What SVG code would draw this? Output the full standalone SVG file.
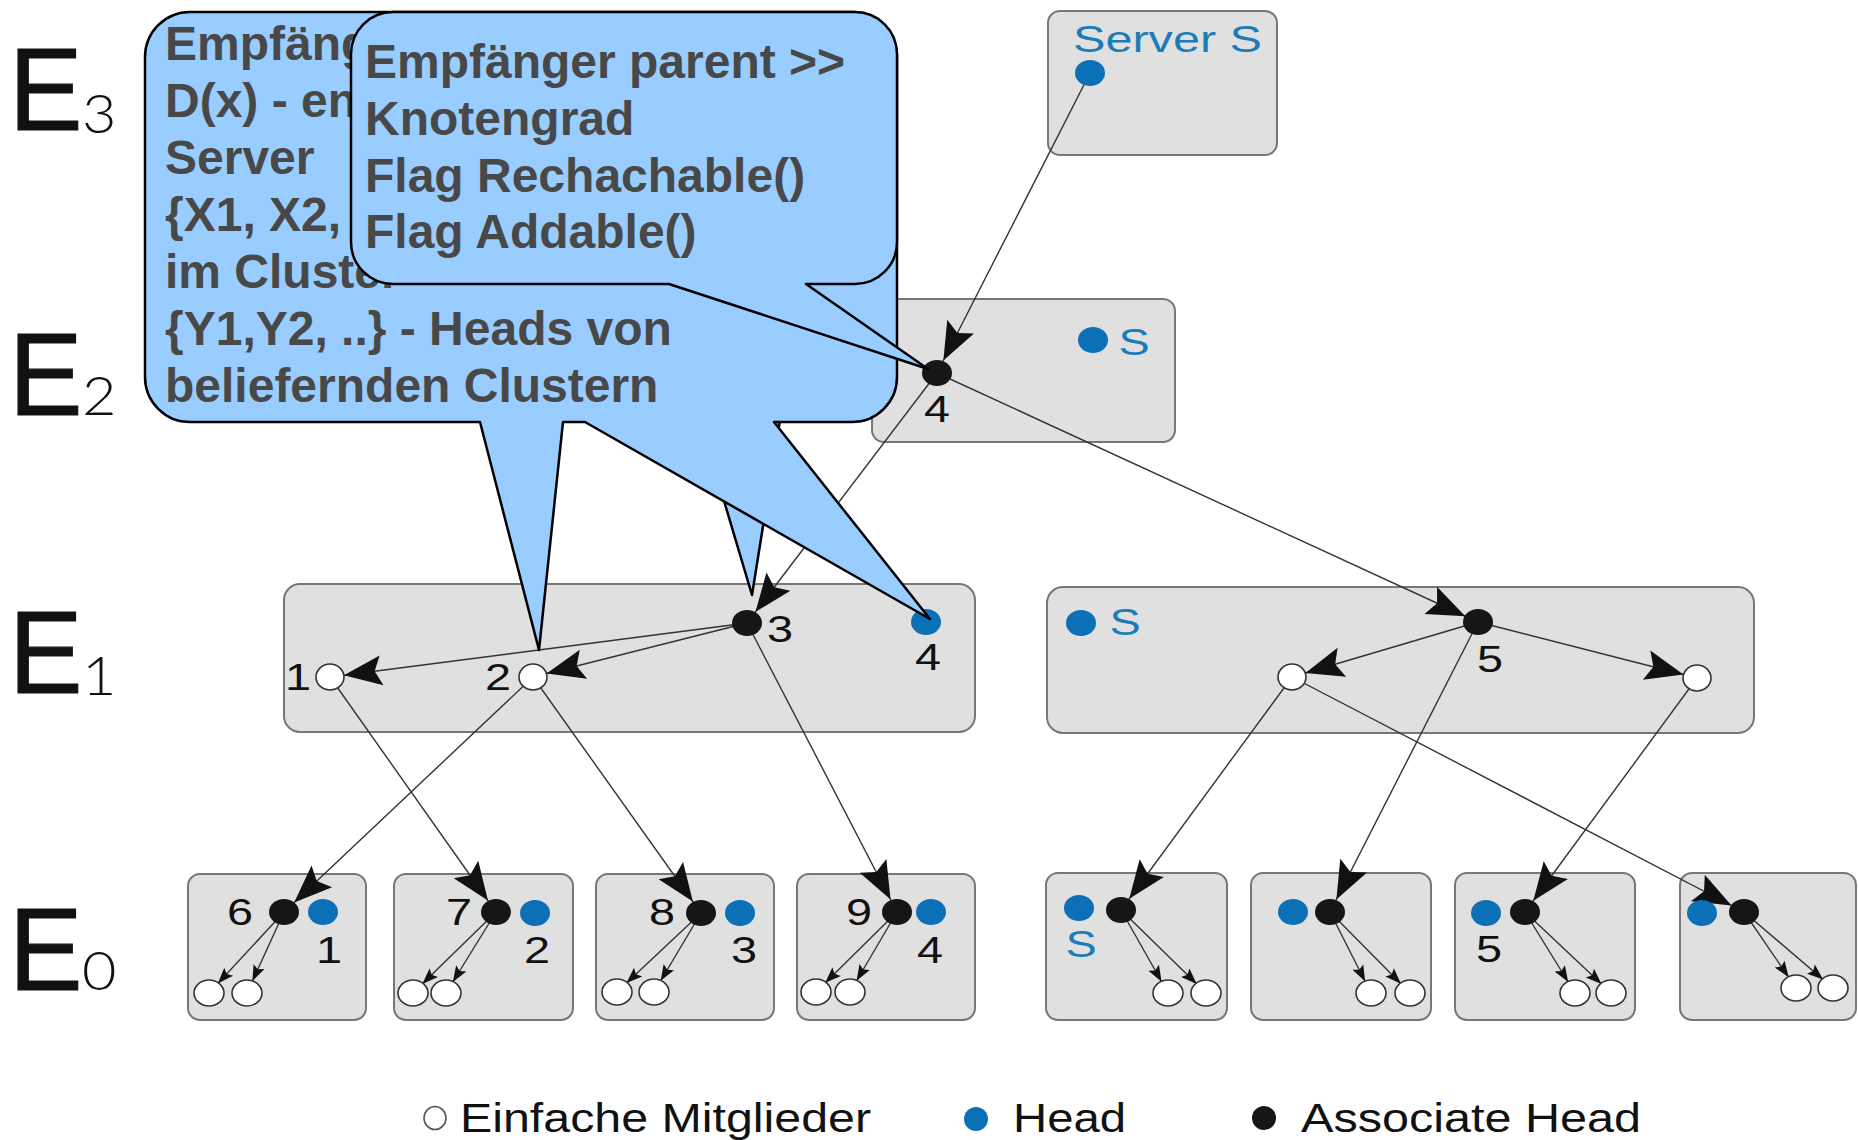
<svg xmlns="http://www.w3.org/2000/svg" width="1858" height="1140" viewBox="0 0 1858 1140">
  <style>
    .box { fill: #e0e0e0; stroke: #777; stroke-width: 2; }
    .blk { fill: #161616; }
    .blu { fill: #0b70b6; }
    .wht { fill: #fff; stroke: #333; stroke-width: 1.6; }
    .edge { fill: none; stroke: #333; stroke-width: 1.4; }
    .big { marker-end: url(#ahBig); }
    .small { marker-end: url(#ahSmall); }
    .lbl { font-family: "Liberation Sans", Arial, sans-serif; font-size: 36px; fill: #111; text-anchor: middle; }
    .lbl.s { fill: #1c7cb8; }
    .lvl { font-family: "Liberation Sans", Arial, sans-serif; fill: #111; }
    .lvl .e { font-size: 116px; stroke: #111; stroke-width: 1.2; }
    .lvl .n { font-family: Lato, "Liberation Sans", Arial, sans-serif; font-weight: 300; font-size: 54px; }
    .call { fill: #99ccff; stroke: #000; stroke-width: 2.5; stroke-linejoin: round; }
    .ctext { font-family: "Liberation Sans", Arial, sans-serif; font-weight: bold; font-size: 48px; fill: #484848; }
    .leg { font-family: "Liberation Sans", Arial, sans-serif; font-size: 40px; fill: #111; }
  </style>
  <defs>
    <marker id="ahBig" markerUnits="userSpaceOnUse" orient="auto" overflow="visible" markerWidth="1" markerHeight="1" refX="0" refY="0">
      <path d="M-14,0 L-52,-15 L-45,0 L-52,15 Z" fill="#111"/>
    </marker>
    <marker id="ahSmall" markerUnits="userSpaceOnUse" orient="auto" overflow="visible" markerWidth="1" markerHeight="1" refX="0" refY="0">
      <path d="M-13,0 L-29,-6 L-26,0 L-29,6 Z" fill="#111"/>
    </marker>
  </defs>

  <rect width="1858" height="1140" fill="#fff"/>

  <!-- level labels -->
  <g id="levels" class="lvl">
    <text class="e" transform="translate(9,130) scale(0.95,1)">E</text>
    <text class="n" transform="translate(82,133) scale(1.1,1)">3</text>
    <text class="e" transform="translate(9,415) scale(0.95,1)">E</text>
    <text class="n" transform="translate(82,415) scale(1.1,1)">2</text>
    <text class="e" transform="translate(9,693) scale(0.95,1)">E</text>
    <text class="n" transform="translate(82,695) scale(1.1,1)">1</text>
    <text class="e" transform="translate(9,990) scale(0.95,1)">E</text>
    <text class="n" transform="translate(82,990) scale(1.1,1)">0</text>
  </g>

  <!-- cluster boxes -->
  <g id="cluster-e3"><rect class="box" x="1048" y="11" width="229" height="144" rx="12"/></g>
  <g id="cluster-e2"><rect class="box" x="872" y="299" width="303" height="143" rx="12"/></g>
  <g id="cluster-e1-a"><rect class="box" x="284" y="584" width="691" height="148" rx="16"/></g>
  <g id="cluster-e1-b"><rect class="box" x="1047" y="587" width="707" height="146" rx="16"/></g>
  <g id="cluster-e0-1"><rect class="box" x="188" y="874" width="178" height="146" rx="12"/></g>
  <g id="cluster-e0-2"><rect class="box" x="394" y="874" width="179" height="146" rx="12"/></g>
  <g id="cluster-e0-3"><rect class="box" x="596" y="874" width="178" height="146" rx="12"/></g>
  <g id="cluster-e0-4"><rect class="box" x="797" y="874" width="178" height="146" rx="12"/></g>
  <g id="cluster-e0-5"><rect class="box" x="1046" y="873" width="181" height="147" rx="12"/></g>
  <g id="cluster-e0-6"><rect class="box" x="1251" y="873" width="180" height="147" rx="12"/></g>
  <g id="cluster-e0-7"><rect class="box" x="1455" y="873" width="180" height="147" rx="12"/></g>
  <g id="cluster-e0-8"><rect class="box" x="1680" y="873" width="176" height="147" rx="12"/></g>

  <!-- connectors -->
  <g id="connectors">
    <line class="edge big" x1="1090" y1="73" x2="937" y2="373"/>
    <line class="edge big" x1="937" y1="373" x2="747" y2="623"/>
    <line class="edge big" x1="937" y1="373" x2="1478" y2="622"/>
    <line class="edge big" x1="747" y1="623" x2="330" y2="677"/>
    <line class="edge big" x1="747" y1="623" x2="533" y2="677"/>
    <line class="edge big" x1="1478" y1="622" x2="1292" y2="677"/>
    <line class="edge big" x1="1478" y1="622" x2="1697" y2="678"/>
    <line class="edge big" x1="330" y1="677" x2="496" y2="912"/>
    <line class="edge big" x1="533" y1="677" x2="284" y2="912"/>
    <line class="edge big" x1="533" y1="677" x2="701" y2="913"/>
    <line class="edge big" x1="747" y1="623" x2="897" y2="912"/>
    <line class="edge big" x1="1292" y1="677" x2="1121" y2="910"/>
    <line class="edge big" x1="1292" y1="677" x2="1744" y2="912"/>
    <line class="edge big" x1="1478" y1="622" x2="1330" y2="912"/>
    <line class="edge big" x1="1697" y1="678" x2="1525" y2="912"/>
    <!-- member links inside the bottom clusters -->
    <line class="edge small" x1="284" y1="912" x2="209" y2="993"/>
    <line class="edge small" x1="284" y1="912" x2="247" y2="993"/>
    <line class="edge small" x1="496" y1="912" x2="413" y2="993"/>
    <line class="edge small" x1="496" y1="912" x2="446" y2="993"/>
    <line class="edge small" x1="701" y1="913" x2="617" y2="992"/>
    <line class="edge small" x1="701" y1="913" x2="654" y2="992"/>
    <line class="edge small" x1="897" y1="912" x2="816" y2="992"/>
    <line class="edge small" x1="897" y1="912" x2="850" y2="992"/>
    <line class="edge small" x1="1121" y1="910" x2="1168" y2="993"/>
    <line class="edge small" x1="1121" y1="910" x2="1206" y2="993"/>
    <line class="edge small" x1="1330" y1="912" x2="1371" y2="993"/>
    <line class="edge small" x1="1330" y1="912" x2="1410" y2="993"/>
    <line class="edge small" x1="1525" y1="912" x2="1575" y2="993"/>
    <line class="edge small" x1="1525" y1="912" x2="1611" y2="993"/>
    <line class="edge small" x1="1744" y1="912" x2="1796" y2="988"/>
    <line class="edge small" x1="1744" y1="912" x2="1833" y2="988"/>
  </g>

  <!-- E3: server -->
  <g id="server">
    <text class="lbl s" x="1073" y="52" style="text-anchor:start" textLength="189" lengthAdjust="spacingAndGlyphs">Server S</text>
    <ellipse class="blu" cx="1090" cy="73" rx="15" ry="13"/>
  </g>

  <!-- E2 -->
  <g id="e2-head"><ellipse class="blu" cx="1093" cy="340" rx="15" ry="13"/><text class="lbl s" transform="translate(1134,355) scale(1.3,1)">S</text></g>
  <g id="e2-assoc-4"><ellipse class="blk" cx="937" cy="373" rx="15" ry="13"/><text class="lbl" transform="translate(937,422) scale(1.3,1)">4</text></g>

  <!-- E1 left cluster -->
  <g id="e1-member-1"><ellipse class="wht" cx="330" cy="677" rx="14" ry="13"/><text class="lbl" transform="translate(298,690) scale(1.3,1)">1</text></g>
  <g id="e1-member-2"><ellipse class="wht" cx="533" cy="677" rx="14" ry="13"/><text class="lbl" transform="translate(498,690) scale(1.3,1)">2</text></g>
  <g id="e1-assoc-3"><ellipse class="blk" cx="747" cy="623" rx="15" ry="13"/><text class="lbl" transform="translate(780,642) scale(1.3,1)">3</text></g>
  <g id="e1-head-4"><ellipse class="blu" cx="926" cy="622" rx="15" ry="13"/><text class="lbl" transform="translate(928,670) scale(1.3,1)">4</text></g>

  <!-- E1 right cluster -->
  <g id="e1-head-s"><ellipse class="blu" cx="1081" cy="623" rx="15" ry="13"/><text class="lbl s" transform="translate(1125,635) scale(1.3,1)">S</text></g>
  <g id="e1-assoc-5"><ellipse class="blk" cx="1478" cy="622" rx="15" ry="13"/><text class="lbl" transform="translate(1490,672) scale(1.3,1)">5</text></g>
  <g id="e1-member-l"><ellipse class="wht" cx="1292" cy="677" rx="14" ry="13"/></g>
  <g id="e1-member-r"><ellipse class="wht" cx="1697" cy="678" rx="14" ry="13"/></g>

  <!-- E0 clusters -->
  <g id="e0-c1">
    <ellipse class="blk" cx="284" cy="912" rx="15" ry="13"/><ellipse class="blu" cx="323" cy="912" rx="15" ry="13"/>
    <text class="lbl" transform="translate(240,925) scale(1.3,1)">6</text><text class="lbl" transform="translate(329,963) scale(1.3,1)">1</text>
    <ellipse class="wht" cx="209" cy="993" rx="15" ry="13"/><ellipse class="wht" cx="247" cy="993" rx="15" ry="13"/>
  </g>
  <g id="e0-c2">
    <ellipse class="blk" cx="496" cy="912" rx="15" ry="13"/><ellipse class="blu" cx="535" cy="913" rx="15" ry="13"/>
    <text class="lbl" transform="translate(459,925) scale(1.3,1)">7</text><text class="lbl" transform="translate(537,963) scale(1.3,1)">2</text>
    <ellipse class="wht" cx="413" cy="993" rx="15" ry="13"/><ellipse class="wht" cx="446" cy="993" rx="15" ry="13"/>
  </g>
  <g id="e0-c3">
    <ellipse class="blk" cx="701" cy="913" rx="15" ry="13"/><ellipse class="blu" cx="740" cy="913" rx="15" ry="13"/>
    <text class="lbl" transform="translate(662,925) scale(1.3,1)">8</text><text class="lbl" transform="translate(744,963) scale(1.3,1)">3</text>
    <ellipse class="wht" cx="617" cy="992" rx="15" ry="13"/><ellipse class="wht" cx="654" cy="992" rx="15" ry="13"/>
  </g>
  <g id="e0-c4">
    <ellipse class="blk" cx="897" cy="912" rx="15" ry="13"/><ellipse class="blu" cx="931" cy="912" rx="15" ry="13"/>
    <text class="lbl" transform="translate(859,925) scale(1.3,1)">9</text><text class="lbl" transform="translate(930,963) scale(1.3,1)">4</text>
    <ellipse class="wht" cx="816" cy="992" rx="15" ry="13"/><ellipse class="wht" cx="850" cy="992" rx="15" ry="13"/>
  </g>
  <g id="e0-c5">
    <ellipse class="blu" cx="1079" cy="908" rx="15" ry="13"/><ellipse class="blk" cx="1121" cy="910" rx="15" ry="13"/>
    <text class="lbl s" transform="translate(1081,957) scale(1.3,1)">S</text>
    <ellipse class="wht" cx="1168" cy="993" rx="15" ry="13"/><ellipse class="wht" cx="1206" cy="993" rx="15" ry="13"/>
  </g>
  <g id="e0-c6">
    <ellipse class="blu" cx="1293" cy="912" rx="15" ry="13"/><ellipse class="blk" cx="1330" cy="912" rx="15" ry="13"/>
    <ellipse class="wht" cx="1371" cy="993" rx="15" ry="13"/><ellipse class="wht" cx="1410" cy="993" rx="15" ry="13"/>
  </g>
  <g id="e0-c7">
    <ellipse class="blu" cx="1486" cy="913" rx="15" ry="13"/><ellipse class="blk" cx="1525" cy="912" rx="15" ry="13"/>
    <text class="lbl" transform="translate(1489,962) scale(1.3,1)">5</text>
    <ellipse class="wht" cx="1575" cy="993" rx="15" ry="13"/><ellipse class="wht" cx="1611" cy="993" rx="15" ry="13"/>
  </g>
  <g id="e0-c8">
    <ellipse class="blu" cx="1702" cy="913" rx="15" ry="13"/><ellipse class="blk" cx="1744" cy="912" rx="15" ry="13"/>
    <ellipse class="wht" cx="1796" cy="988" rx="15" ry="13"/><ellipse class="wht" cx="1833" cy="988" rx="15" ry="13"/>
  </g>

  <!-- legend -->
  <g id="legend">
    <ellipse cx="435" cy="1118" rx="11" ry="11.5" fill="#fff" stroke="#555" stroke-width="1.6"/>
    <text class="leg" x="460" y="1132" textLength="411" lengthAdjust="spacingAndGlyphs">Einfache Mitglieder</text>
    <ellipse class="blu" cx="976" cy="1119" rx="12" ry="12"/>
    <text class="leg" x="1013" y="1132" textLength="113" lengthAdjust="spacingAndGlyphs">Head</text>
    <ellipse class="blk" cx="1264" cy="1118" rx="12" ry="12"/>
    <text class="leg" x="1301" y="1132" textLength="340" lengthAdjust="spacingAndGlyphs">Associate Head</text>
  </g>

  <!-- callout about the receivers -->
  <g id="callout-receivers">
    <polygon class="call" points="700,420 752,595 780,420"/>
    <path class="call" d="M190,12 H852 A45,45 0 0 1 897,57 V377 A45,45 0 0 1 852,422 H774 L930,619 L585,422 H563 L539,650 L480,422 H190 A45,45 0 0 1 145,377 V57 A45,45 0 0 1 190,12 Z"/>
    <text class="ctext" x="165" y="60">Empfäng</text>
    <text class="ctext" x="165" y="117">D(x) - en</text>
    <text class="ctext" x="165" y="174">Server</text>
    <text class="ctext" x="165" y="231">{X1, X2,</text>
    <text class="ctext" x="165" y="288">im Cluster</text>
    <text class="ctext" x="165" y="345">{Y1,Y2, ..} - Heads von</text>
    <text class="ctext" x="165" y="402">beliefernden Clustern</text>
  </g>

  <!-- callout about the parent -->
  <g id="callout-parent">
    <path class="call" d="M393,12 H855 A42,42 0 0 1 897,54 V242 A42,42 0 0 1 855,284 H806 L928,369 L669,284 H393 A42,42 0 0 1 351,242 V54 A42,42 0 0 1 393,12 Z"/>
    <text class="ctext" x="365" y="78">Empfänger parent &gt;&gt;</text>
    <text class="ctext" x="365" y="135">Knotengrad</text>
    <text class="ctext" x="365" y="192">Flag Rechachable()</text>
    <text class="ctext" x="365" y="248">Flag Addable()</text>
  </g>
</svg>
